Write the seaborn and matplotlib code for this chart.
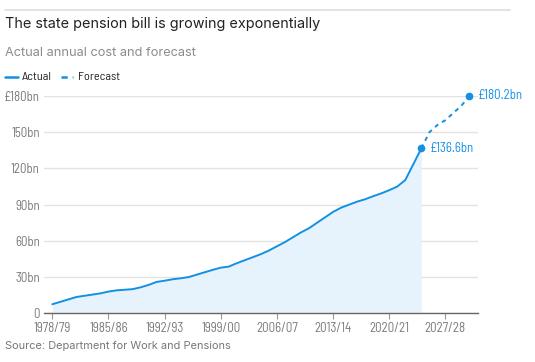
import matplotlib
matplotlib.use("Agg")
import matplotlib.pyplot as plt
import matplotlib.font_manager as fm
import seaborn as sns
import pandas as pd

# ---- data ----
years = [f"{y}/{str(y + 1)[-2:]}" for y in range(1978, 2031)]
actual_values = [7.5, 9.5, 11.5, 13.5, 14.5, 15.5, 16.5, 18, 19, 19.5,
                 20, 21.5, 23.5, 26, 27, 28.2, 29, 30, 32, 34,
                 36, 37.8, 38.7, 41.5, 44, 46.5, 49, 52, 55.5, 59,
                 63, 67, 70.5, 75, 79.5, 84, 87.5, 90, 92.5, 94.5,
                 97, 99.3, 102, 105, 110.4, 123.5, 136.6]
forecast_values = [136.6, 150, 156, 160, 166, 172, 180.2]
tick_years = ["1978/79", "1985/86", "1992/93", "1999/00", "2006/07", "2013/14", "2020/21", "2027/28"]
y_ticks = [0, 30, 60, 90, 120, 150, 180]
y_tick_labels = ["0", "30bn", "60bn", "90bn", "120bn", "150bn", "£180bn"]

actual = pd.DataFrame({"i": range(len(actual_values)), "value": actual_values})
forecast = pd.DataFrame({"i": range(len(actual_values) - 1, len(actual_values) - 1 + len(forecast_values)),
                         "value": forecast_values})

# ---- fonts ----
names = {f.name for f in fm.fontManager.ttflist}
cond_opts = [("Barlow Semi Condensed", 9.3), ("Barlow Condensed", 10.3), ("Roboto Condensed", 8.2),
             ("Archivo Narrow", 8.5), ("Roboto", 7.5)]
cond, csize = next(((n, s) for n, s in cond_opts if n in names), ("DejaVu Sans", 7))
main = "Inter" if "Inter" in names else "DejaVu Sans"

sns.set_style("white")
plt.rcParams["font.family"] = [main, "DejaVu Sans"]

BLUE = "#1490e3"
FILL = "#e7f3fc"
GREY = "#7a7a7a"

fig = plt.figure(figsize=(5.35, 3.62), dpi=100)
ax = fig.add_axes([44 / 535, 1 - 313.3 / 362, (478.3 - 44) / 535, (313.3 - 96) / 362])

ax.fill_between(actual["i"], actual["value"], 0, color=FILL, lw=0, zorder=1)
sns.lineplot(data=actual, x="i", y="value", ax=ax, color=BLUE, lw=1.4, zorder=3)
sns.lineplot(data=forecast, x="i", y="value", ax=ax, color=BLUE, lw=1.4, zorder=3,
             linestyle=(0, (2.2, 2.2)))
end_a = actual.iloc[-1]
end_f = forecast.iloc[-1]
ax.plot([end_a["i"], end_f["i"]], [end_a["value"], end_f["value"]], "o", color=BLUE,
        ms=4.5, zorder=4, clip_on=False)
ax.annotate(f"£{end_a['value']:.1f}bn", (end_a["i"], end_a["value"]), xytext=(6, 0),
            textcoords="offset points", va="center", ha="left", color=BLUE,
            fontsize=csize, family=cond)
ax.annotate(f"£{end_f['value']:.1f}bn", (end_f["i"], end_f["value"]), xytext=(6, 0),
            textcoords="offset points", va="center", ha="left", color=BLUE,
            fontsize=csize, family=cond, annotation_clip=False)

ax.set_xlim(-1.04, 53.1)
ax.set_ylim(0, 180)
ax.set_yticks(y_ticks)
ax.set_yticklabels(y_tick_labels)
ax.set_xticks([years.index(t) for t in tick_years])
ax.set_xticklabels(tick_years)
ax.set_xlabel("")
ax.set_ylabel("")
ax.grid(axis="y", color="#e3e3e3", lw=1)
ax.set_axisbelow(True)
for s in ["top", "right", "left"]:
    ax.spines[s].set_visible(False)
ax.spines["bottom"].set_color("#666666")
ax.spines["bottom"].set_linewidth(1)
ax.tick_params(axis="y", length=0, pad=3, labelsize=csize, labelcolor=GREY)
ax.tick_params(axis="x", length=4, width=0.8, color="#999999", pad=2, labelsize=csize, labelcolor=GREY,
               bottom=True)
for lbl in ax.get_xticklabels() + ax.get_yticklabels():
    lbl.set_family(cond)

# header
fig.add_artist(plt.Line2D([5 / 535, 510 / 535], [1 - 10 / 362] * 2, color="#dddddd", lw=1.2))
fig.text(5 / 535, 1 - 24 / 362, "The state pension bill is growing exponentially", fontsize=10.4,
         color="#222222", va="center", ha="left")
fig.text(5 / 535, 1 - 53 / 362, "Actual annual cost and forecast", fontsize=9.2,
         color="#8c8c8c", va="center", ha="left")
# legend
ly = 1 - 77 / 362
fig.add_artist(plt.Line2D([5 / 535, 18 / 535], [ly, ly], color=BLUE, lw=1.8))
fig.text(21.5 / 535, ly, "Actual", fontsize=csize * 0.95, family=cond, color="#222222", va="center")
fig.add_artist(plt.Line2D([61 / 535, 73 / 535], [ly, ly], color=BLUE, lw=1.8, linestyle=(0, (2.5, 2))))
fig.text(78 / 535, ly, "Forecast", fontsize=csize * 0.95, family=cond, color="#222222", va="center")
fig.text(5 / 535, 1 - 346 / 362, "Source: Department for Work and Pensions", fontsize=7.9,
         color="#777777", va="center", ha="left")

fig.savefig("out.png", dpi=100, facecolor="white")
